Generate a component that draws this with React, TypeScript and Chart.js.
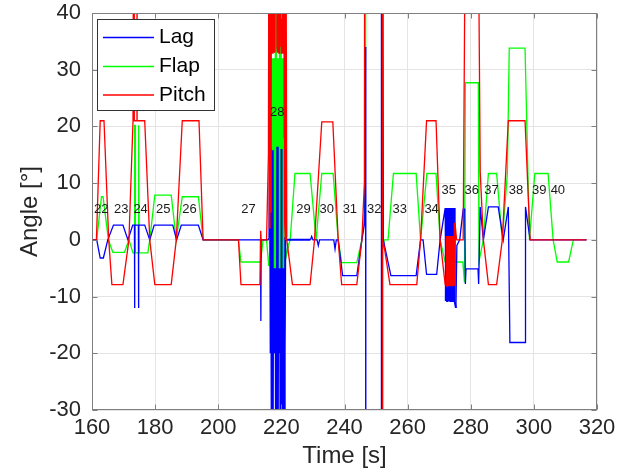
import React, { useEffect, useRef } from "react";
import { Chart, registerables } from "chart.js";

Chart.register(...registerables);

const FONT = '"Liberation Sans", Arial, Helvetica, sans-serif';

// ---------- Lag (blue) ----------
const lagBefore28: [number, number][] = [
  [160, 0], [161.5, 0], [162.6, -3.2], [163.6, -3.2], [165.0, 0], [166.8, 2.6], [169.8, 2.6], [171.4, 0],
  [172.9, 2.6], [173.45, 2.6], [173.5, -12], [173.55, 2.6], [174.7, 2.6], [174.75, -12], [174.8, 2.6],
  [176.7, 2.6], [178.3, 0], [179.7, 2.6], [185.6, 2.6], [186.8, 0], [188.3, 2.6], [193.7, 2.6], [195.2, 0],
  [213.4, 0], [213.5, -14.3], [213.6, 0], [215.8, 0],
];
const lagBurst28: [number, number][] = [
  [216.2, 0.5], [216.4, 16], [216.5, -5], [216.6, 16.2], [216.7, -20], [216.8, -5], [216.9, -40], [217.0, -5],
  [217.1, 15.8], [217.2, -20], [217.3, -40], [217.4, -5], [217.5, -20], [217.6, -5], [217.7, -19], [217.8, -5],
  [217.9, -20], [218.0, -5], [218.1, -19], [218.2, -5], [218.3, -40], [218.4, -5], [218.5, -20], [218.6, -40],
  [218.7, 16.4], [218.8, -20], [218.9, -40], [219.0, -5], [219.1, -20], [219.2, -5], [219.3, -19], [219.4, -5],
  [219.5, -20], [219.6, -5], [219.7, -19], [219.8, -40], [219.9, -5], [220.0, 16], [220.1, -40], [220.2, -5],
  [220.3, -20], [220.4, -40], [220.5, -5], [220.6, -20], [220.7, -40], [220.8, -5], [220.9, -40], [221.0, -5],
  [221.1, -20], [221.25, 0.5],
];
const lagAfter28: [number, number][] = [
  [221.4, 0], [229.2, 0], [229.6, 0.6], [230.0, 0], [231.3, 0], [231.7, -1.0], [232.1, 0], [236.6, 0],
  [237.0, -1.6], [237.4, 0], [238.0, 0], [239.4, -6.3], [243.9, -6.3], [245.5, 0], [246.4, 3], [246.7, 34],
  [246.75, -150], [251.6, -150], [251.7, 150], [252.3, 0], [254.7, -6.3], [262.7, -6.3], [264.1, 0],
  [264.9, 0], [266.0, -6.1], [269.2, -6.1], [270.3, 0], [271.9, 5.6],
];
const lagBurst35: [number, number][] = [
  [272.1, -10.8], [272.2, 5.6], [272.3, -10.8], [272.4, 5.6], [272.5, -10.8], [272.6, 5.6], [272.7, -10.8],
  [272.8, 5.6], [272.9, -10.8], [273.0, 5.6], [273.1, -10.8], [273.2, 5.6], [273.3, -10.8], [273.4, 5.6],
  [273.5, -10.8], [273.6, 5.6], [273.7, -10.8], [273.8, 5.6], [273.9, -10.8], [274.0, 5.6], [274.1, -10.8],
  [274.2, 5.6], [274.3, -10.8], [274.4, 5.6], [274.5, -10.8], [274.6, 5.6], [274.7, -10.8], [274.8, 5.6],
];
const lagAfter35: [number, number][] = [
  [275.0, -10.8], [275.3, -12], [275.6, -1], [276.5, 0], [277.6, 5.4], [278.1, 5.4], [278.3, -7.8],
  [278.5, -5.1], [282.3, -5.1], [282.5, -7.8], [283.0, 5.8], [284.0, 0], [285.6, 5.8], [288.7, 5.8],
  [290.3, 0], [291.9, 5.8], [292.4, -18.1], [297.2, -18.1], [297.35, 5.8], [298.8, 0], [316.7, 0],
];

// ---------- Flap (green) ----------
const flapBefore28: [number, number][] = [
  [160, 0], [161.5, 0], [163.0, 7.6], [163.5, 7.6], [165.2, 0], [166.6, -2.2], [170.3, -2.2], [171.7, 0],
  [173.0, -2.3], [173.4, -2.3], [173.5, 20.2], [173.65, 20.2], [173.75, -2.3], [174.6, -2.3], [174.7, 20.2],
  [174.85, 20.2], [174.95, -2.3], [177.7, -2.3], [178.3, 0], [179.9, 7.9], [185.1, 7.9], [186.7, 0],
  [188.6, 7.6], [193.7, 7.6], [195.2, 0], [206.4, 0], [207.2, -3.9], [213.4, -3.9], [214.2, 0], [215.3, 0],
  [216.0, -4.6], [216.5, -2],
];
const flapBurst28: [number, number][] = [
  [216.75, 32], [216.85, -5], [216.95, 32], [217.05, -5], [217.15, 32], [217.25, -5], [217.35, 32],
  [217.45, -5], [217.55, 32], [217.65, -5], [217.75, 32], [217.85, -5], [217.95, 32], [218.05, -5],
  [218.2, 80], [218.35, -5], [218.45, 32], [218.55, -5], [218.65, 32], [218.75, -5], [218.85, 32],
  [218.95, -5], [219.05, 32], [219.15, -5], [219.25, 32], [219.35, -5], [219.45, 32], [219.55, -5],
  [219.65, 80], [219.8, -5], [219.9, 32], [220.0, -5], [220.1, 32], [220.2, -5], [220.3, 32], [220.4, -5],
  [220.5, 32], [220.6, -5], [220.7, 32], [220.8, -5],
];
const flapAfter28: [number, number][] = [
  [221.0, -4], [222.2, -1], [222.8, 0], [224.3, 11.7], [229.1, 11.7], [231.0, 0], [232.8, 11.7],
  [236.4, 11.7], [238.0, 0], [239.1, -4.0], [243.9, -4.0], [245.5, 0], [246.4, 5], [246.65, 34],
  [246.7, 150], [251.95, 150], [252.2, -1], [252.5, 0], [253.8, 0], [255.5, 11.7], [262.7, 11.7],
  [264.1, 0], [266.1, 11.7], [269.0, 11.7], [270.3, 0], [271.9, -3.9], [277.5, -3.9], [278.0, -7.5],
  [278.3, 27.7], [282.4, 27.7], [282.6, -3.8], [284.0, 0], [285.6, 11.7], [288.2, 11.7], [290.0, 0],
  [291.6, 11.7], [292.2, 33.8], [297.2, 33.8], [298.6, 0], [300.3, 11.7], [304.5, 11.7], [306.1, 0],
  [307.4, -3.9], [311.0, -3.9], [312.5, 0],
];

// ---------- Pitch (red) ----------
const pitchBefore28: [number, number][] = [
  [160, 0], [161.4, 0], [162.6, 21], [163.8, 21], [165.3, 0], [166.3, -7.9], [169.8, -7.9], [171.7, 0],
  [173.0, 21], [173.3, 21], [173.35, 120], [173.4, 21], [174.2, 21], [174.25, 120], [174.3, 21], [176.7, 21],
  [178.3, 0], [179.9, -7.9], [185.1, -7.9], [186.7, 0], [188.6, 21], [193.9, 21], [195.2, 0], [206.4, 0],
  [207.2, -7.9], [213.2, -7.9], [213.45, 1.6], [213.6, 0], [215.3, 0], [215.9, 15],
];
const pitchBurst28: [number, number][] = [
  [216.1, 80], [216.2, 2], [216.35, 80], [216.45, 5], [216.6, 80], [216.7, 20], [216.8, 80], [216.9, 34],
  [217.0, 80], [217.1, 33], [217.2, 80], [217.3, 34], [217.4, 80], [217.5, 33], [217.6, 80], [217.7, 34],
  [217.8, 80], [217.9, 33], [218.0, 80], [218.6, 80], [218.7, 34], [218.8, 80], [218.9, 33], [219.0, 80],
  [219.1, 34], [219.2, 80], [219.3, 33], [219.4, 80], [219.9, 80], [220.0, 34], [220.1, 80], [220.2, 33],
  [220.3, 80], [220.45, 34], [220.6, 80], [220.75, 33], [220.85, 80], [220.95, 18], [221.05, 80],
  [221.15, 3], [221.25, 80], [221.35, 0], [221.45, 60],
];
const pitchAfter28: [number, number][] = [
  [221.6, 0.5], [222.4, -3], [223.5, -7.9], [229.1, -7.9], [230.5, 0], [232.8, 20.8], [236.3, 20.8],
  [238.0, 0], [239.1, -7.9], [243.9, -7.9], [245.5, 0], [246.3, 10], [246.6, 150], [251.95, 150],
  [252.05, -150], [252.15, 0], [252.8, -2], [254.4, -7.9], [262.9, -7.9], [264.1, 0], [266.0, 21],
  [269.0, 21], [270.3, 0], [271.9, -7.9], [272.2, -7.9],
];
const pitchBurst35: [number, number][] = [
  [272.3, 0.7], [272.4, -8], [272.5, 0.7], [272.6, -8], [272.7, 0.7], [272.8, -8], [272.9, 0.7], [273.0, -8],
  [273.1, 0.7], [273.2, -8], [273.3, 0.7], [273.4, -8], [273.5, 0.7], [273.6, -8], [273.7, 0.7], [273.8, -8],
  [273.9, 0.7], [274.0, -8], [274.1, 0.7], [274.2, -8], [274.3, 0.7], [274.4, -8], [274.5, 0.7], [274.6, -8],
  [274.7, 0.7], [274.8, -8],
];
const pitchAfter35: [number, number][] = [
  [275.0, 3], [275.4, 0], [277.6, 0], [278.3, 60], [282.35, 60], [283.0, 12], [284.0, 0], [285.6, -7.9],
  [288.2, -7.9], [290.0, 0], [291.9, 21], [297.2, 21], [298.8, 0], [316.7, 0],
];

// ---------- test number annotations ----------
const testLabels = ["22", "23", "24", "25", "26", "27", "28", "29", "30", "31", "32", "33", "34", "35", "36", "37", "38", "39", "40"];
const labelTimes = [162.9, 169.3, 175.4, 182.6, 190.9, 209.6, 218.7, 227.0, 234.4, 241.7, 249.4, 257.5, 267.6, 273.0, 280.3, 286.6, 294.3, 301.7, 307.6];
const labelAngles = [5.4, 5.4, 5.4, 5.4, 5.4, 5.4, 22.5, 5.4, 5.4, 5.4, 5.4, 5.4, 5.4, 8.7, 8.7, 8.7, 8.7, 8.7, 8.7];

const seriesNames = ["Lag", "Flap", "Pitch"];
const seriesColors = ["#0000ff", "#00ff00", "#ff0000"];
const burstRanges: [number, number][] = [[216.0, 221.5], [272.0, 275.0]];

const lagPoints = [...lagBefore28, ...lagBurst28, ...lagAfter28, ...lagBurst35, ...lagAfter35];
const flapPoints = [...flapBefore28, ...flapBurst28, ...flapAfter28];
const pitchPoints = [...pitchBefore28, ...pitchBurst28, ...pitchAfter28, ...pitchBurst35, ...pitchAfter35];

const toXY = (pts: [number, number][]) => pts.map(([x, y]) => ({ x, y }));

const decorPlugin = {
  id: "decor",
  afterDatasetsDraw(chart: any) {
    const { ctx, chartArea, scales } = chart;
    const xs = scales.x;
    const ys = scales.y;
    ctx.save();
    // box
    ctx.strokeStyle = "#7f7f7f";
    ctx.lineWidth = 1;
    const L = Math.round(chartArea.left) + 0.5;
    const R = Math.round(chartArea.right) - 0.5;
    const T = Math.round(chartArea.top) + 0.5;
    const B = Math.round(chartArea.bottom) - 0.5;
    ctx.strokeRect(L, T, R - L, B - T);
    // inward ticks
    const tl = 5;
    ctx.beginPath();
    xs.ticks.forEach((t: any) => {
      const px = Math.round(xs.getPixelForValue(t.value)) + 0.5;
      ctx.moveTo(px, B); ctx.lineTo(px, B - tl);
      ctx.moveTo(px, T); ctx.lineTo(px, T + tl);
    });
    ys.ticks.forEach((t: any) => {
      const py = Math.round(ys.getPixelForValue(t.value)) + 0.5;
      ctx.moveTo(L, py); ctx.lineTo(L + tl, py);
      ctx.moveTo(R, py); ctx.lineTo(R - tl, py);
    });
    ctx.stroke();

    // annotations
    ctx.font = `13px ${FONT}`;
    ctx.fillStyle = "#1a1a1a";
    ctx.textAlign = "center";
    ctx.textBaseline = "middle";
    testLabels.forEach((txt, i) => {
      ctx.fillText(txt, xs.getPixelForValue(labelTimes[i]), ys.getPixelForValue(labelAngles[i]));
    });

    // legend
    const lx = chartArea.left + 5;
    const ly = chartArea.top + 6;
    const lw = 117;
    const lh = 91;
    ctx.fillStyle = "#ffffff";
    ctx.fillRect(lx, ly, lw, lh);
    ctx.strokeStyle = "#333333";
    ctx.lineWidth = 1;
    ctx.strokeRect(Math.round(lx) + 0.5, Math.round(ly) + 0.5, lw, lh);
    ctx.font = `21px ${FONT}`;
    ctx.textAlign = "left";
    ctx.textBaseline = "middle";
    const rowY = [18.5, 47.5, 76];
    seriesNames.forEach((name, i) => {
      const yy = ly + rowY[i];
      ctx.strokeStyle = seriesColors[i];
      ctx.lineWidth = 1.3;
      ctx.beginPath();
      ctx.moveTo(lx + 6, yy);
      ctx.lineTo(lx + 57, yy);
      ctx.stroke();
      ctx.fillStyle = "#000000";
      ctx.fillText(name, lx + 62, yy);
    });
    ctx.restore();
  },
};

export default function App() {
  const ref = useRef<HTMLCanvasElement | null>(null);
  useEffect(() => {
    if (!ref.current) return;
    const mk = (i: number, pts: [number, number][], order: number) => {
      const data = toXY(pts);
      return {
        label: seriesNames[i],
        data,
        borderColor: seriesColors[i],
        borderWidth: 1.3,
        pointRadius: 0,
        tension: 0,
        fill: false,
        order,
        segment: {
          borderWidth: (c: any) => {
            const xv = data[c.p0DataIndex]?.x;
            if (xv === undefined) return undefined;
            return burstRanges.some(([a, b]) => xv >= a && xv <= b) ? 2 : undefined;
          },
        },
      };
    };
    const chart = new Chart(ref.current, {
      type: "line",
      data: {
        datasets: [mk(0, lagPoints, 1), mk(1, flapPoints, 2), mk(2, pitchPoints, 0)],
      },
      options: {
        animation: false,
        responsive: false,
        events: [],
        layout: { padding: { top: 13, right: 40, left: 0, bottom: 0 } },
        plugins: { legend: { display: false }, tooltip: { enabled: false } },
        scales: {
          x: {
            type: "linear",
            min: 160,
            max: 320,
            border: { display: false },
            grid: { color: "#e4e4e4", drawTicks: false },
            ticks: {
              stepSize: 20,
              autoSkip: false,
              maxRotation: 0,
              padding: 7,
              color: "#262626",
              font: { family: FONT, size: 22, lineHeight: 1 },
            },
            title: {
              display: true,
              text: "Time [s]",
              color: "#262626",
              font: { family: FONT, size: 24, lineHeight: 1.2 },
              padding: { top: 0, bottom: 0 },
            },
            afterFit: (s: any) => {
              s.height = 61;
              s.paddingLeft = 0;
              s.paddingRight = 0;
            },
          },
          y: {
            type: "linear",
            min: -30,
            max: 40,
            border: { display: false },
            grid: { color: "#e4e4e4", drawTicks: false },
            ticks: {
              stepSize: 10,
              autoSkip: false,
              padding: 11,
              color: "#262626",
              font: { family: FONT, size: 22, lineHeight: 1 },
            },
            title: {
              display: true,
              text: "Angle [°]",
              color: "#262626",
              font: { family: FONT, size: 24, lineHeight: 1.2 },
              padding: { top: 16, bottom: 0 },
            },
            afterFit: (s: any) => {
              s.width = 92;
              s.paddingTop = 0;
              s.paddingBottom = 0;
            },
          },
        },
      },
      plugins: [decorPlugin],
    } as any);
    return () => chart.destroy();
  }, []);
  return (
    <div style={{ position: "absolute", left: 0, top: 0, width: 637, height: 471, background: "#fff" }}>
      <canvas ref={ref} width={637} height={471} style={{ display: "block" }} />
    </div>
  );
}
